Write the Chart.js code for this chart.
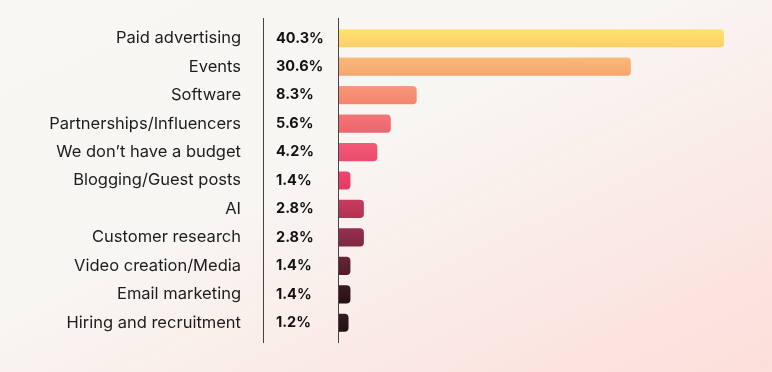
<!DOCTYPE html>
<html>
<head>
<meta charset="utf-8">
<script src="https://cdn.jsdelivr.net/npm/chart.js@4"></script>
<style>
  html, body { margin: 0; padding: 0; }
  body {
    width: 772px; height: 372px; overflow: hidden;
    background: linear-gradient(to bottom right, #f8f7f4 0%, #f8f6f3 42%, #fbe6e2 80%, #fcdeda 100%);
  }
  #wrap { width: 772px; height: 372px; position: relative; }
</style>
</head>
<body>
<div id="wrap"><canvas id="c" width="772" height="372"></canvas></div>
<script>
const categories = [
  "Paid advertising",
  "Events",
  "Software",
  "Partnerships/Influencers",
  "We don\u2019t have a budget",
  "Blogging/Guest posts",
  "AI",
  "Customer research",
  "Video creation/Media",
  "Email marketing",
  "Hiring and recruitment"
];
const values = [40.3, 30.6, 8.3, 5.6, 4.2, 1.4, 2.8, 2.8, 1.4, 1.4, 1.2];
const pctLabels = ["40.3%", "30.6%", "8.3%", "5.6%", "4.2%", "1.4%", "2.8%", "2.8%", "1.4%", "1.4%", "1.2%"];
const barTopColors = ["#ffe470", "#f9bb78", "#f8987a", "#f37777", "#f35c78", "#ef4670", "#c93c60", "#983050", "#6a2437", "#3e1a22", "#381a22"];
const barBottomColors = ["#fdcd6b", "#f6a46e", "#f2846f", "#ed636f", "#eb4a6b", "#e23a62", "#b03152", "#7c2742", "#501b2a", "#251012", "#221012"];

const FONT = "Inter, 'Noto Sans', sans-serif";

function barGradient(ctx) {
  const chart = ctx.chart;
  const i = ctx.dataIndex;
  if (!chart.chartArea || !chart.scales.y) return barTopColors[i];
  const yc = chart.scales.y.getPixelForValue(i);
  const g = chart.ctx.createLinearGradient(0, yc - 10, 0, yc + 10);
  g.addColorStop(0, barTopColors[i]);
  g.addColorStop(1, barBottomColors[i]);
  return g;
}

const divider = {
  id: 'divider',
  afterDraw(chart) {
    const c = chart.ctx, a = chart.chartArea;
    const xs = [chart.scales.gap.right - 13, a.left - 0.5];
    c.save();
    c.strokeStyle = '#444444';
    c.lineWidth = 1;
    xs.forEach(x => {
      c.beginPath();
      c.moveTo(Math.round(x) + 0.5, a.top - 6);
      c.lineTo(Math.round(x) + 0.5, a.bottom + 6);
      c.stroke();
    });
    c.restore();
  }
};

new Chart(document.getElementById('c'), {
  type: 'bar',
  data: {
    labels: categories,
    datasets: [{
      data: values,
      yAxisID: 'y',
      backgroundColor: barGradient,
      borderColor: 'rgba(255,255,255,0.25)',
      borderWidth: 1,
      borderRadius: 5,
      borderSkipped: 'start',
      barPercentage: 0.71,
      categoryPercentage: 1
    }]
  },
  options: {
    indexAxis: 'y',
    responsive: false,
    animation: false,
    layout: { padding: { top: 24, bottom: 35, left: 0, right: 47 } },
    plugins: { legend: { display: false }, tooltip: { enabled: false } },
    scales: {
      x: {
        display: false,
        min: 0,
        max: 40.3
      },
      y: {
        position: 'left',
        weight: 2,
        offset: true,
        grid: { display: false, drawTicks: false },
        border: { display: false },
        ticks: {
          padding: 0,
          color: '#1c1c1c',
          font: { family: FONT, size: 16.5 }
        },
        afterFit(s) { s.width = 241; }
      },
      gap: {
        type: 'category',
        position: 'left',
        weight: 1,
        offset: true,
        labels: categories,
        grid: { display: false, drawTicks: false },
        border: { display: false },
        ticks: { display: false },
        afterFit(s) { s.width = 35; }
      },
      y2: {
        type: 'category',
        position: 'left',
        weight: 0,
        offset: true,
        labels: pctLabels,
        grid: { display: false, drawTicks: false },
        border: { display: false },
        ticks: {
          crossAlign: 'far',
          padding: 0,
          color: '#111111',
          font: { family: FONT, size: 14.5, weight: 'bold' }
        },
        afterFit(s) { s.width = 62; }
      }
    }
  },
  plugins: [divider]
});
</script>
</body>
</html>
